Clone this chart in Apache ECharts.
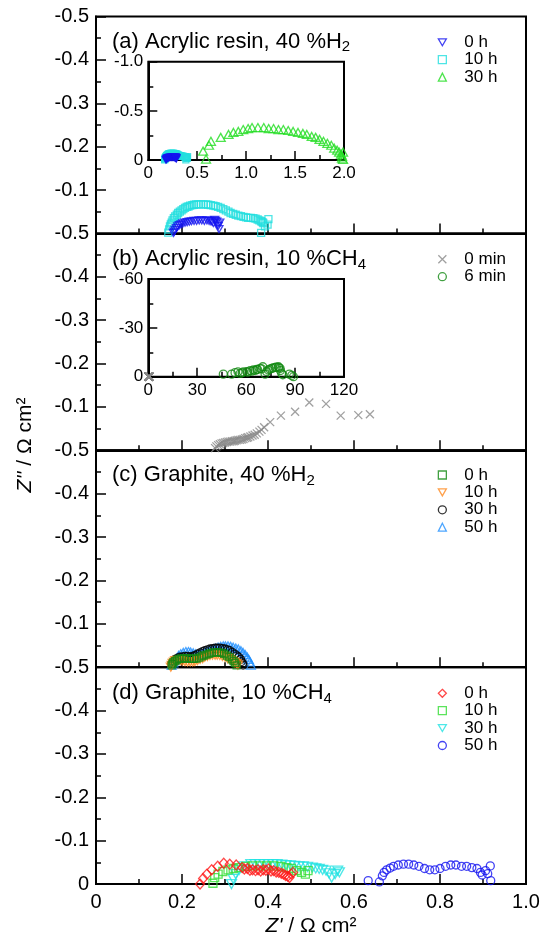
<!DOCTYPE html>
<html><head><meta charset="utf-8">
<script src="https://cdn.jsdelivr.net/npm/echarts@6/dist/echarts.min.js"></script>
<style>html,body{margin:0;padding:0;background:#fff}#c{width:549px;height:940px}</style>
</head><body><div id="c"></div><script>
const FONT = 'Liberation Sans, Arial, Helvetica, sans-serif';

// ---- Panel (a) Acrylic resin, 40 %H2 ----
const a0hX = [0.180,0.182,0.184,0.187,0.190,0.194,0.198,0.202,0.207,0.212,0.217,0.222,0.228,0.234,0.240,0.246,0.252,0.258,0.263,0.267,0.270,0.273,0.276,0.278,0.281,0.283,0.284,0.286,0.288];
const a0hY = [-0.001,-0.004,-0.008,-0.012,-0.016,-0.019,-0.021,-0.023,-0.025,-0.026,-0.027,-0.028,-0.029,-0.029,-0.030,-0.030,-0.029,-0.030,-0.029,-0.028,-0.027,-0.024,-0.031,-0.029,-0.027,-0.021,-0.017,-0.010,-0.025];
const a10hX = [0.168,0.170,0.172,0.174,0.176,0.178,0.181,0.184,0.188,0.191,0.195,0.199,0.203,0.207,0.211,0.215,0.219,0.224,0.228,0.233,0.238,0.244,0.250,0.256,0.261,0.267,0.273,0.278,0.284,0.290,0.296,0.302,0.308,0.313,0.319,0.325,0.331,0.337,0.343,0.349,0.354,0.360,0.366,0.371,0.376,0.380,0.384,0.387,0.389,0.393,0.384,0.399,0.401];
const a10hY = [-0.002,-0.009,-0.016,-0.021,-0.025,-0.030,-0.035,-0.039,-0.043,-0.047,-0.050,-0.053,-0.056,-0.059,-0.061,-0.062,-0.064,-0.065,-0.066,-0.067,-0.067,-0.067,-0.067,-0.067,-0.066,-0.065,-0.064,-0.063,-0.061,-0.059,-0.056,-0.053,-0.050,-0.047,-0.045,-0.043,-0.041,-0.040,-0.038,-0.037,-0.036,-0.036,-0.035,-0.034,-0.032,-0.030,-0.028,-0.026,-0.024,-0.016,-0.001,-0.020,-0.033];
const a30hX = [0.56,0.59,0.62,0.64,0.74,0.82,0.87,0.92,0.97,1.02,1.06,1.12,1.18,1.23,1.28,1.33,1.38,1.43,1.48,1.53,1.58,1.62,1.67,1.71,1.75,1.79,1.83,1.87,1.90,1.93,1.95,1.97,1.98,1.98,1.99,1.99];
const a30hY = [-0.09,-0.01,-0.15,-0.19,-0.23,-0.26,-0.28,-0.29,-0.31,-0.32,-0.33,-0.33,-0.33,-0.32,-0.32,-0.31,-0.31,-0.30,-0.29,-0.28,-0.27,-0.26,-0.24,-0.23,-0.21,-0.19,-0.17,-0.15,-0.12,-0.10,-0.08,-0.06,-0.04,-0.02,-0.08,-0.005];

// ---- Panel (b) Acrylic resin, 10 %CH4 ----
const b0minX = [0.277,0.280,0.284,0.288,0.292,0.296,0.300,0.304,0.308,0.312,0.316,0.320,0.323,0.327,0.331,0.335,0.339,0.343,0.347,0.351,0.354,0.359,0.364,0.369,0.374,0.380,0.385,0.391,0.405,0.430,0.463,0.496,0.535,0.569,0.610,0.637];
const b0minY = [-0.005,-0.009,-0.012,-0.014,-0.016,-0.017,-0.018,-0.019,-0.020,-0.020,-0.021,-0.021,-0.022,-0.023,-0.024,-0.024,-0.025,-0.026,-0.028,-0.029,-0.030,-0.032,-0.034,-0.036,-0.039,-0.043,-0.047,-0.053,-0.065,-0.080,-0.089,-0.110,-0.107,-0.080,-0.081,-0.083];
const b6minX = [46.0,51.1,53.2,55.0,56.3,57.5,58.3,60.4,61.0,62.4,63.5,64.4,65.5,66.5,67.0,68.5,69.5,70.2,71.6,72.5,73.6,74.5,75.7,76.5,77.7,78.5,79.8,80.0,80.8,81.0,81.8,82.5,86.5,88.0,89.0];
const b6minY = [-1.6,-1.6,-2.5,-3.0,-2.0,-2.4,-2.9,-3.1,-2.8,-3.7,-3.4,-4.1,-3.8,-4.5,-4.4,-5.1,-4.8,-6.1,-1.6,-3.2,-4.1,-4.6,-5.1,-5.4,-5.7,-5.9,-6.1,-5.6,-5.1,-3.8,-2.0,-1.2,-1.6,-0.8,0];

// ---- Panel (c) Graphite, 40 %H2 ----
const c0hX = [0.176,0.178,0.180,0.184,0.188,0.193,0.199,0.205,0.211,0.217,0.223,0.228,0.234,0.240,0.246,0.251,0.257,0.263,0.269,0.275,0.281,0.286,0.292,0.298,0.304,0.310,0.316,0.320,0.323,0.327];
const c0hY = [-0.004,-0.008,-0.011,-0.014,-0.017,-0.019,-0.020,-0.020,-0.020,-0.020,-0.019,-0.019,-0.020,-0.022,-0.025,-0.027,-0.029,-0.031,-0.033,-0.034,-0.034,-0.034,-0.033,-0.031,-0.027,-0.023,-0.018,-0.014,-0.010,-0.004];
const c10hX = [0.174,0.176,0.178,0.181,0.184,0.190,0.196,0.201,0.207,0.213,0.219,0.225,0.230,0.236,0.242,0.248,0.253,0.259,0.265,0.271,0.277,0.282,0.288,0.294,0.300,0.306,0.311,0.315,0.319,0.323,0.327,0.330];
const c10hY = [0.000,-0.004,-0.009,-0.012,-0.015,-0.016,-0.015,-0.014,-0.013,-0.012,-0.012,-0.012,-0.013,-0.015,-0.018,-0.020,-0.023,-0.025,-0.027,-0.028,-0.028,-0.028,-0.027,-0.025,-0.023,-0.020,-0.018,-0.015,-0.012,-0.010,-0.008,-0.005];
const c30hX = [0.176,0.180,0.184,0.190,0.195,0.201,0.207,0.213,0.219,0.225,0.230,0.236,0.242,0.248,0.253,0.259,0.265,0.271,0.277,0.282,0.288,0.294,0.300,0.306,0.311,0.317,0.323,0.328,0.332,0.336,0.338,0.341,0.342];
const c30hY = [-0.008,-0.013,-0.018,-0.021,-0.023,-0.024,-0.025,-0.025,-0.024,-0.025,-0.027,-0.030,-0.033,-0.036,-0.038,-0.040,-0.042,-0.043,-0.044,-0.044,-0.044,-0.043,-0.042,-0.040,-0.038,-0.034,-0.030,-0.026,-0.023,-0.018,-0.013,-0.009,-0.005];
const c50hX = [0.176,0.180,0.184,0.188,0.192,0.197,0.203,0.209,0.215,0.220,0.226,0.232,0.238,0.244,0.250,0.255,0.261,0.267,0.273,0.278,0.284,0.290,0.296,0.301,0.307,0.313,0.319,0.325,0.331,0.337,0.342,0.347,0.352,0.355,0.358,0.360];
const c50hY = [-0.005,-0.010,-0.015,-0.021,-0.027,-0.031,-0.034,-0.036,-0.036,-0.035,-0.033,-0.031,-0.030,-0.032,-0.034,-0.036,-0.038,-0.040,-0.042,-0.044,-0.046,-0.048,-0.049,-0.049,-0.049,-0.048,-0.046,-0.044,-0.042,-0.038,-0.034,-0.029,-0.023,-0.018,-0.012,-0.005];

// ---- Panel (d) Graphite, 10 %CH4 ----
const d0hX = [0.242,0.249,0.258,0.269,0.283,0.297,0.311,0.326,0.340,0.345,0.352,0.358,0.364,0.371,0.377,0.383,0.389,0.395,0.401,0.407,0.413,0.419,0.425,0.431,0.436,0.441,0.446,0.450,0.454,0.458];
const d0hY = [0.000,-0.013,-0.023,-0.033,-0.041,-0.048,-0.046,-0.044,-0.038,-0.035,-0.036,-0.032,-0.033,-0.031,-0.033,-0.030,-0.033,-0.032,-0.035,-0.030,-0.031,-0.028,-0.027,-0.025,-0.023,-0.020,-0.018,-0.015,-0.023,-0.027];
const d10hX = [0.272,0.276,0.284,0.295,0.307,0.319,0.332,0.348,0.364,0.381,0.397,0.413,0.430,0.442,0.454,0.466,0.478,0.487,0.493];
const d10hY = [-0.002,-0.015,-0.023,-0.029,-0.033,-0.036,-0.038,-0.041,-0.042,-0.042,-0.042,-0.042,-0.041,-0.038,-0.036,-0.031,-0.027,-0.023,-0.031];
const d30hX = [0.315,0.319,0.325,0.333,0.344,0.360,0.370,0.381,0.391,0.401,0.411,0.421,0.432,0.442,0.452,0.462,0.472,0.482,0.492,0.503,0.511,0.519,0.527,0.535,0.542,0.548,0.556,0.562,0.566];
const d30hY = [0.000,-0.012,-0.023,-0.033,-0.041,-0.046,-0.046,-0.046,-0.046,-0.046,-0.046,-0.046,-0.045,-0.044,-0.043,-0.042,-0.041,-0.041,-0.040,-0.038,-0.036,-0.035,-0.033,-0.031,-0.025,-0.015,-0.023,-0.031,-0.027];
const d50hX = [0.633,0.659,0.666,0.670,0.676,0.684,0.692,0.703,0.715,0.727,0.739,0.751,0.764,0.776,0.788,0.800,0.813,0.825,0.837,0.850,0.862,0.874,0.886,0.894,0.898,0.906,0.911,0.917,0.918];
const d50hY = [-0.008,-0.005,-0.019,-0.027,-0.033,-0.037,-0.041,-0.044,-0.046,-0.046,-0.044,-0.041,-0.036,-0.033,-0.033,-0.036,-0.041,-0.044,-0.044,-0.041,-0.041,-0.038,-0.036,-0.027,-0.021,-0.031,-0.024,-0.042,-0.008];

// ---- Axis ticks ----
const mainXTicks = [0, 0.2, 0.4, 0.6, 0.8, 1.0];
const mainYTicks = [-0.5, -0.4, -0.3, -0.2, -0.1, 0];

const zip = (xs, ys) => xs.map((x, i) => [x, ys[i]]);
const DOWN = 'path://M0,0L10,0L5,8.66Z';
const CROSS = 'path://M0,0L10,10M10,0L0,10';

function sc(name, sym, size, color, idx, xs, ys, z) {
  return {
    type: 'scatter', name, xAxisIndex: idx, yAxisIndex: idx, data: zip(xs, ys),
    symbol: sym, symbolSize: size, z: z || 2, silent: true, animation: false,
    itemStyle: { color: 'rgba(0,0,0,0)', borderColor: color, borderWidth: 1.3 },
    emphasis: { disabled: true }
  };
}

const PANEL_TOPS = [16.5, 233.4, 450.3, 667.2];
const PH = 216.9;
const black = '#000';
const tickCommon = (len) => ({ inside: true, length: len, lineStyle: { color: black, width: 1.5 } });
const minorCommon = (len) => ({ show: true, splitNumber: 2, length: len, lineStyle: { color: black, width: 1.5 } });

const grids = PANEL_TOPS.map(t => ({ left: 96, top: t, width: 430, height: PH, show: true, borderColor: black, borderWidth: 2, backgroundColor: 'rgba(0,0,0,0)' }));
grids.push({ left: 148.3, top: 61.7, width: 195.7, height: 98.3, show: true, borderColor: black, borderWidth: 2, backgroundColor: '#fff' });
grids.push({ left: 148.3, top: 279, width: 195.7, height: 97.7, show: true, borderColor: black, borderWidth: 2, backgroundColor: '#fff' });

const fmt1 = v => Math.abs(v) < 1e-9 ? '0' : v.toFixed(1);

const xAxes = [0, 1, 2, 3].map(i => ({
  gridIndex: i, type: 'value', min: mainXTicks[0], max: mainXTicks[mainXTicks.length - 1], interval: 0.2,
  axisLine: { lineStyle: { color: black, width: 2 } },
  axisTick: tickCommon(10), minorTick: minorCommon(5), splitLine: { show: false },
  axisLabel: { show: i === 3, fontSize: 20, color: black, fontFamily: FONT, margin: 8, showMinLabel: true, showMaxLabel: true, formatter: fmt1 },
  name: i === 3 ? "{i|Z'} / Ω cm²" : '', nameLocation: 'middle', nameGap: 32,
  nameTextStyle: { fontSize: 21, color: black, fontFamily: FONT, rich: { i: { fontStyle: 'italic', fontSize: 21, fontFamily: FONT, color: black } } }
}));
const yAxes = [0, 1, 2, 3].map(i => ({
  gridIndex: i, type: 'value', min: mainYTicks[0], max: mainYTicks[mainYTicks.length - 1], interval: 0.1, inverse: true,
  axisLine: { lineStyle: { color: black, width: 2 } },
  axisTick: tickCommon(10), minorTick: minorCommon(5), splitLine: { show: false },
  axisLabel: { fontSize: 20, color: black, fontFamily: FONT, margin: 7, showMinLabel: true, showMaxLabel: true,
    formatter: v => Math.abs(v) < 1e-9 ? (i === 3 ? '0' : '') : v.toFixed(1) }
}));
// inset (a)
xAxes.push({ gridIndex: 4, type: 'value', min: 0, max: 2, interval: 0.5,
  axisLine: { lineStyle: { color: black, width: 2 } }, axisTick: tickCommon(9), minorTick: minorCommon(5), splitLine: { show: false },
  axisLabel: { fontSize: 17, color: black, fontFamily: FONT, margin: 5, showMinLabel: true, showMaxLabel: true, formatter: fmt1 } });
yAxes.push({ gridIndex: 4, type: 'value', min: -1, max: 0, interval: 0.5, inverse: true,
  axisLine: { lineStyle: { color: black, width: 2 } }, axisTick: tickCommon(9), minorTick: minorCommon(5), splitLine: { show: false },
  axisLabel: { fontSize: 17, color: black, fontFamily: FONT, margin: 5, showMinLabel: true, showMaxLabel: true, formatter: fmt1 } });
// inset (b)
xAxes.push({ gridIndex: 5, type: 'value', min: 0, max: 120, interval: 30,
  axisLine: { lineStyle: { color: black, width: 2 } }, axisTick: tickCommon(9), minorTick: minorCommon(5), splitLine: { show: false },
  axisLabel: { fontSize: 17, color: black, fontFamily: FONT, margin: 5, showMinLabel: true, showMaxLabel: true } });
yAxes.push({ gridIndex: 5, type: 'value', min: -60, max: 0, interval: 30, inverse: true,
  axisLine: { lineStyle: { color: black, width: 2 } }, axisTick: tickCommon(9), minorTick: minorCommon(5), splitLine: { show: false },
  axisLabel: { fontSize: 17, color: black, fontFamily: FONT, margin: 5, showMinLabel: true, showMaxLabel: true } });

const C = {
  a0: '#1414f0', a10: '#22dede', a30: '#22dd22',
  b0: '#888888', b6: '#118811',
  c0: '#118811', c10: '#ff8a1f', c30: '#000000', c50: '#2090ff',
  d0: '#ff1a1a', d10: '#33dd33', d30: '#22e2e2', d50: '#1414f0'
};

const series = [
  // (a)
  sc('a|10 h', 'rect', 7, C.a10, 0, a10hX, a10hY),
  sc('a|0 h', DOWN, [8, 7], C.a0, 0, a0hX, a0hY),
  sc('a|30 h', 'triangle', [9, 8], C.a30, 4, a30hX, a30hY, 5),
  sc('ai|10 h', 'rect', 6, C.a10, 4, a10hX, a10hY, 5),
  sc('ai|0 h', DOWN, [7, 6], C.a0, 4, a0hX, a0hY, 5),
  // (b)
  sc('b|0 min', CROSS, 8, C.b0, 1, b0minX, b0minY),
  sc('b|6 min', 'circle', 8, C.b6, 5, b6minX, b6minY, 5),
  sc('bi|0 min', CROSS, 8, C.b0, 5, b0minX, b0minY, 5),
  // (c)
  sc('c|50 h', 'triangle', [9, 8], C.c50, 2, c50hX, c50hY),
  sc('c|30 h', 'circle', 8, C.c30, 2, c30hX, c30hY),
  sc('c|10 h', DOWN, [9, 8], C.c10, 2, c10hX, c10hY),
  sc('c|0 h', 'rect', 7, C.c0, 2, c0hX, c0hY),
  // (d)
  sc('d|50 h', 'circle', 8, C.d50, 3, d50hX, d50hY),
  sc('d|30 h', DOWN, [10, 9], C.d30, 3, d30hX, d30hY),
  sc('d|10 h', 'rect', 8, C.d10, 3, d10hX, d10hY),
  sc('d|0 h', 'diamond', [9, 10], C.d0, 3, d0hX, d0hY)
];

function leg(top, names) {
  return {
    orient: 'vertical', left: 437.7, top, padding: 0, itemGap: 0, itemWidth: 8, itemHeight: 8,
    data: names, selectedMode: false,
    itemStyle: { borderWidth: 1.3 },
    formatter: n => '{g|}' + n.split('|')[1],
    textStyle: { fontSize: 17, lineHeight: 17.4, fontFamily: FONT, color: black, rich: { g: { width: 13 } } }
  };
}

function plabel(y, main, sub) {
  return {
    type: 'text', x: 112, y, silent: true,
    style: {
      text: '{n|' + main + '}{s|' + sub + '}', fill: black, verticalAlign: 'middle',
      rich: { n: { fontSize: 22, fontFamily: FONT, lineHeight: 26, fill: black }, s: { fontSize: 15, fontFamily: FONT, lineHeight: 12, verticalAlign: 'bottom', fill: black } }
    }
  };
}

const chart = echarts.init(document.getElementById('c'), null, { renderer: 'canvas' });
chart.setOption({
  backgroundColor: '#fff',
  animation: false,
  grid: grids, xAxis: xAxes, yAxis: yAxes, series,
  legend: [
    leg(33.6, ['a|0 h', 'a|10 h', 'a|30 h']),
    leg(250.6, ['b|0 min', 'b|6 min']),
    leg(466.3, ['c|0 h', 'c|10 h', 'c|30 h', 'c|50 h']),
    leg(684.6, ['d|0 h', 'd|10 h', 'd|30 h', 'd|50 h'])
  ],
  graphic: [
    plabel(41.7, '(a) Acrylic resin, 40 %H', '2'),
    plabel(259.3, '(b) Acrylic resin, 10 %CH', '4'),
    plabel(475, '(c) Graphite, 40 %H', '2'),
    plabel(693.3, '(d) Graphite, 10 %CH', '4'),
    { type: 'text', x: 25, y: 445, rotation: Math.PI / 2, silent: true,
      style: { text: "{i|Z''} / Ω cm²", fill: black, align: 'center', verticalAlign: 'middle', fontSize: 21, fontFamily: FONT,
        rich: { i: { fontStyle: 'italic', fontSize: 21, fontFamily: FONT, fill: black } } } }
  ]
});
</script></body></html>
